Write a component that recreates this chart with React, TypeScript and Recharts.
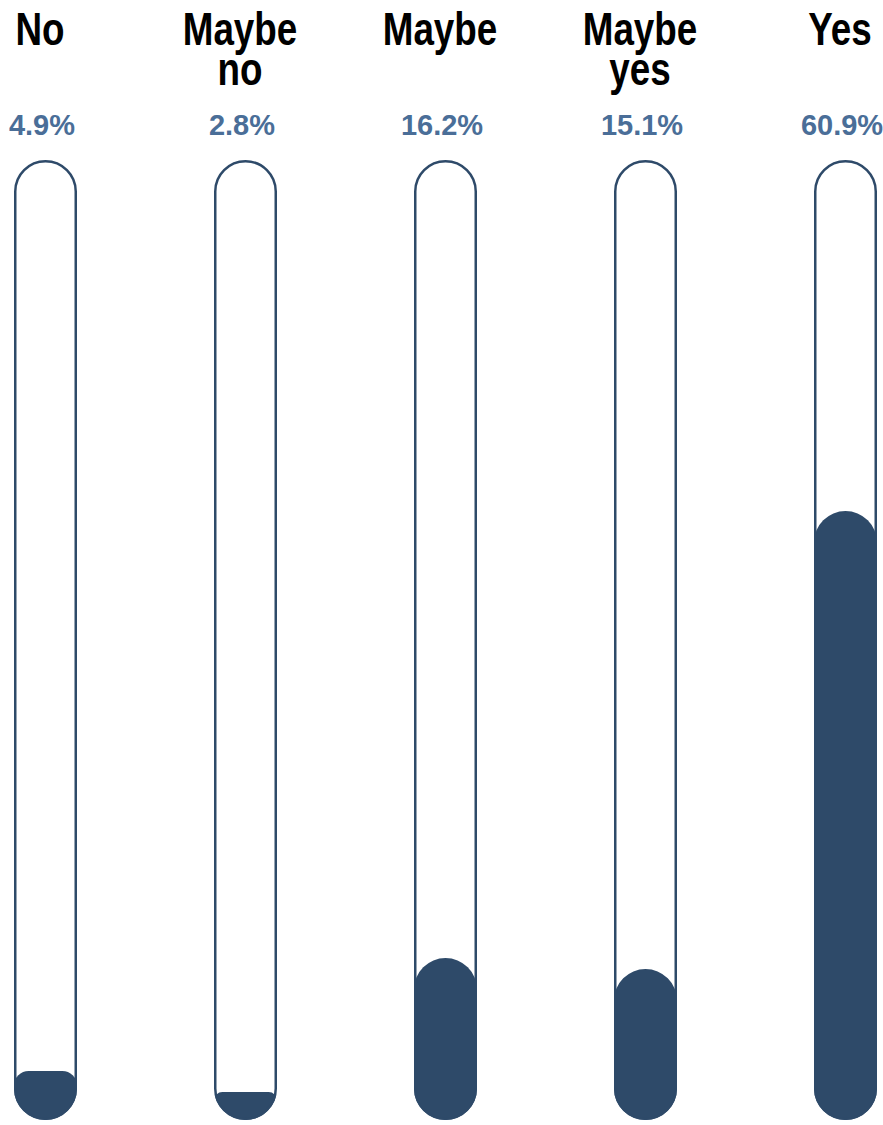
import React from 'react';
import { BarChart, Bar, XAxis, YAxis } from 'recharts';

// survey answers, left to right
const categories = ['No', 'Maybe no', 'Maybe', 'Maybe yes', 'Yes'];
const shares = [4.9, 2.8, 16.2, 15.1, 60.9];
const positions = [0, 1, 2, 3, 4];

const FILL = '#2e4a69';
const PERCENT = '#4a6e98';
const FONT = '"Liberation Sans", Arial, sans-serif';
const MAX = 96; // full tube

const data = positions.map((pos, i) => ({ pos, name: categories[i], share: shares[i] }));

function CategoryTick(props: any) {
  const { x, y, payload } = props;
  const i = payload.value as number;
  const lines = categories[i].split(' ');
  return (
    <g>
      {/* condensed headline: bold sans squeezed horizontally */}
      <g transform={`translate(${x - 5},0) scale(0.8,1)`}>
        <text
          x={0}
          y={y - 115}
          textAnchor="middle"
          fontFamily={FONT}
          fontWeight={700}
          fontSize={46}
          fill="#000"
        >
          {lines.map((line, k) => (
            <tspan key={k} x={0} dy={k === 0 ? 0 : 40}>
              {line}
            </tspan>
          ))}
        </text>
      </g>
      <text
        x={x - 3}
        y={y - 25}
        textAnchor="middle"
        fontFamily={FONT}
        fontWeight={700}
        fontSize={29}
        fill={PERCENT}
      >
        {shares[i].toFixed(1)}%
      </text>
    </g>
  );
}

// tube outline with the liquid rising from the rounded bottom
function Tube(props: any) {
  const { x, y, width, height, background, index, payload } = props;
  const bottom = y + height;
  const top = background ? background.y : bottom - (height * MAX) / payload.share;
  const tubeH = bottom - top;
  const r = width / 2;
  const sw = 2.5;
  const fr = Math.min(r, height * 0.3);
  const clipId = `tube-clip-${index}`;
  const liquid = [
    `M${x},${bottom}`,
    `L${x},${y + fr}`,
    `A${fr},${fr} 0 0 1 ${x + fr},${y}`,
    `L${x + width - fr},${y}`,
    `A${fr},${fr} 0 0 1 ${x + width},${y + fr}`,
    `L${x + width},${bottom}`,
    'Z',
  ].join(' ');
  return (
    <g>
      <defs>
        <clipPath id={clipId}>
          <rect x={x} y={top} width={width} height={tubeH} rx={r} ry={r} />
        </clipPath>
      </defs>
      <path d={liquid} fill={FILL} clipPath={`url(#${clipId})`} />
      <rect
        x={x + sw / 2}
        y={top + sw / 2}
        width={width - sw}
        height={tubeH - sw}
        rx={r - sw / 2}
        ry={r - sw / 2}
        fill="none"
        stroke={FILL}
        strokeWidth={sw}
      />
    </g>
  );
}

export default function App() {
  return (
    <div style={{ position: 'absolute', left: 0, top: 0, width: 883, height: 1125, overflow: 'hidden' }}>
      <BarChart
        width={883}
        height={1125}
        data={data}
        margin={{ top: 130, right: 38, bottom: 5, left: 45 }}
      >
        <XAxis
          dataKey="pos"
          type="number"
          domain={[0, 4]}
          ticks={positions}
          interval={0}
          orientation="top"
          axisLine={false}
          tickLine={false}
          tickSize={0}
          tickMargin={0}
          tick={<CategoryTick />}
        />
        <YAxis hide type="number" domain={[0, MAX]} />
        <Bar dataKey="share" barSize={63} shape={<Tube />} isAnimationActive={false} />
      </BarChart>
    </div>
  );
}
